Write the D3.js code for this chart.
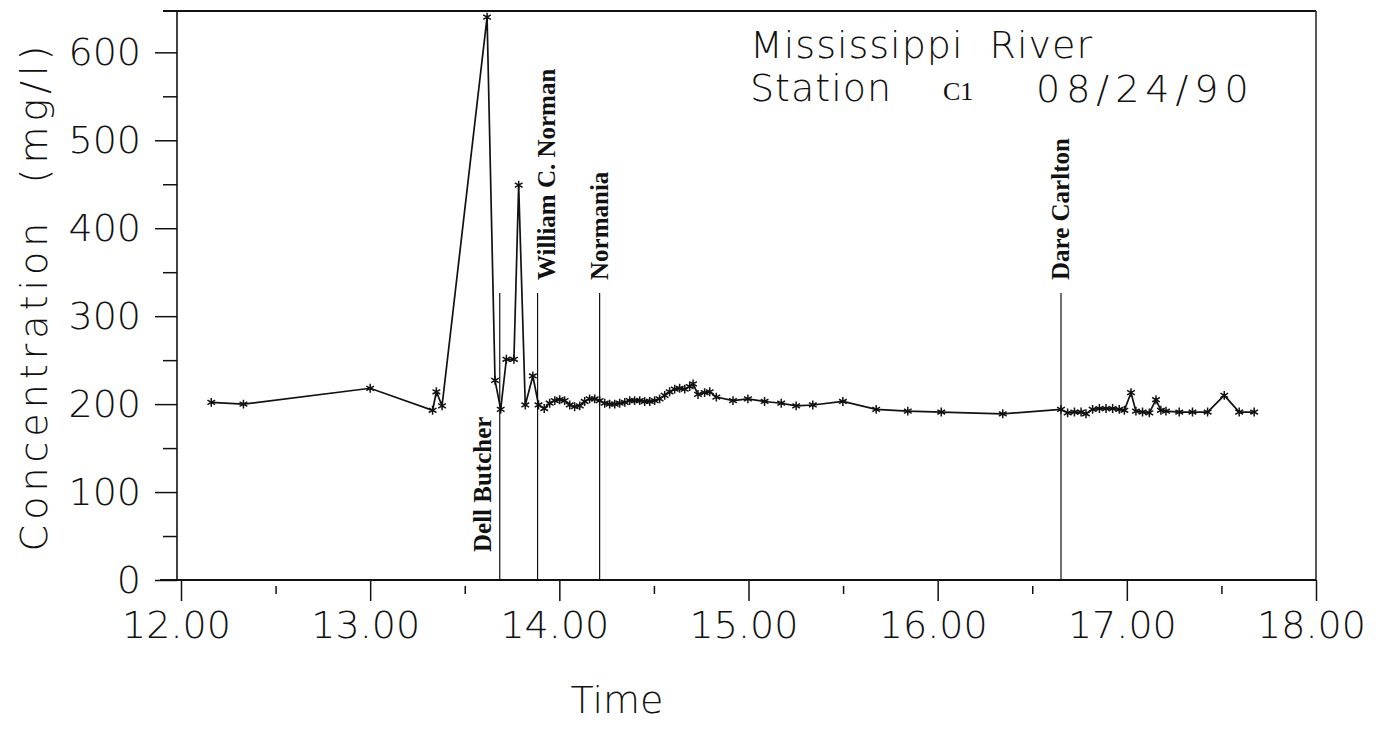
<!DOCTYPE html>
<html>
<head>
<meta charset="utf-8">
<script src="https://cdn.jsdelivr.net/npm/d3@7"></script>
<style>
  body { margin: 0; background: #fff; }
  .thin { font-family: "DejaVu Sans", sans-serif; font-weight: 200; fill: #111; }
  .stn { font-family: "Liberation Serif", "Times New Roman", serif; font-weight: bold; font-size: 25px; fill: #111; }
</style>
</head>
<body>
<script>
// sample times (decimal hours) and concentrations
var times = [12.16, 12.33, 13.00, 13.33, 13.35, 13.38, 13.618, 13.66, 13.69, 13.72, 13.76, 13.785,
  13.82, 13.86, 13.89, 13.92, 13.949, 13.976, 14.002, 14.028, 14.055, 14.081, 14.108, 14.134,
  14.16, 14.187, 14.213, 14.24, 14.266, 14.293, 14.319, 14.346, 14.372, 14.398, 14.425, 14.451,
  14.478, 14.504, 14.53, 14.557, 14.583, 14.61, 14.636, 14.663, 14.689, 14.707, 14.733, 14.768,
  14.795, 14.83, 14.918, 14.997, 15.085, 15.173, 15.252, 15.34, 15.499, 15.675, 15.842, 16.019,
  16.344, 16.652, 16.687, 16.723, 16.758, 16.784, 16.819, 16.855, 16.89, 16.925, 16.96, 16.987,
  17.022, 17.048, 17.083, 17.119, 17.154, 17.18, 17.207, 17.277, 17.347, 17.427, 17.515, 17.594, 17.673]

var concentration = [202, 200, 218, 193, 214, 198, 640, 227, 194, 251, 251, 449,
  199, 232, 199, 195, 201, 204, 205, 204, 199, 197, 198, 203,
  206, 206, 204, 201, 200, 200, 201, 202, 204, 204, 204, 203,
  203, 204, 206, 210, 214, 217, 218, 217, 220, 223, 211, 213,
  214, 208, 204, 206, 203, 201, 198, 199, 203, 194, 192, 191,
  189, 194, 190, 191, 191, 189, 194, 195, 195, 195, 194, 193,
  213, 192, 191, 190, 205, 193, 192, 191, 191, 191, 210, 191, 191]

// vessels passing the station
var vesselNames = ["Dell Butcher", "William C. Norman", "Normania", "Dare Carlton"]
var vesselTimes = [13.685, 13.885, 14.213, 16.652]

var xTicks = [12, 13, 14, 15, 16, 17, 18]
var xMinorTicks = [12.5, 13.5, 14.5, 15.5, 16.5, 17.5]
var yTicks = [0, 100, 200, 300, 400, 500, 600]
var yMinorTicks = [50, 150, 250, 350, 450, 550]

var titleLine1 = "Mississippi River"
var stationName = "C1"
var dateText = "08/24/90"

var W = 1376, H = 729
// NOTE: "top" is taken by window.top, so use m-names
var mLeft = 181, mRight = 1316, mTop = 11, mBottom = 580

var svg = d3.select("body").append("svg")
  .attr("width", W).attr("height", H)

var xScale = d3.scaleLinear().domain([12, 18]).range([mLeft, mRight])
var yScale = d3.scaleLinear().domain([0, 647]).range([mBottom, mTop])

//axes-----------------------------------------------------
var xAxis = svg.append("g").attr("transform", "translate(0," + mBottom + ")")
  .call(d3.axisBottom(xScale).tickValues(xTicks).tickSize(21).tickPadding(10)
    .tickFormat(d3.format(".2f")))
xAxis.select(".domain").remove()
xAxis.selectAll("text").attr("class", "thin").style("font-size", "38px").attr("dx", -5)

var xMinor = svg.append("g").attr("transform", "translate(0," + (mBottom + 6) + ")")
  .call(d3.axisBottom(xScale).tickValues(xMinorTicks).tickSize(8).tickFormat(""))
xMinor.select(".domain").remove()

var yAxis = svg.append("g").attr("transform", "translate(" + (mLeft - 4) + ",0)")
  .call(d3.axisLeft(yScale).tickValues(yTicks).tickSize(22).tickPadding(14))
yAxis.select(".domain").remove()
yAxis.selectAll("text").attr("class", "thin").style("font-size", "38px")

var yMinor = svg.append("g").attr("transform", "translate(" + (mLeft - 4) + ",0)")
  .call(d3.axisLeft(yScale).tickValues(yMinorTicks).tickSize(14).tickFormat(""))
yMinor.select(".domain").remove()

svg.selectAll(".tick line").attr("stroke", "#111").attr("stroke-width", 1.5)

// frame
var frame = svg.append("g").attr("stroke", "#111").attr("fill", "none")
frame.append("line").attr("x1", 160).attr("x2", mRight).attr("y1", mBottom).attr("y2", mBottom).attr("stroke-width", 2.2)
frame.append("line").attr("x1", 163).attr("x2", mRight).attr("y1", mTop).attr("y2", mTop).attr("stroke-width", 2.2)
frame.append("line").attr("x1", mLeft - 4).attr("x2", mLeft - 4).attr("y1", mTop).attr("y2", mBottom).attr("stroke-width", 1.6)
frame.append("line").attr("x1", mRight).attr("x2", mRight).attr("y1", mTop).attr("y2", mBottom).attr("stroke-width", 1.4)

//vessel lines and labels----------------------------------
var labelDx = [-9, 17, 8, 8]
var vessels = svg.selectAll(".vessel").data(vesselNames).enter().append("g")
vessels.append("line")
  .attr("x1", function(d, i) { return xScale(vesselTimes[i]) })
  .attr("x2", function(d, i) { return xScale(vesselTimes[i]) })
  .attr("y1", 293).attr("y2", mBottom)
  .attr("stroke", "#111").attr("stroke-width", 1.2)
vessels.append("text")
  .attr("class", "stn")
  .attr("transform", function(d, i) {
    var x = xScale(vesselTimes[i]) + labelDx[i]
    var y = i == 0 ? 552 : 280
    return "translate(" + x + "," + y + ")rotate(-90)"
  })
  .text(function(d) { return d })

//data line----------------------------------------------
var points = times.map(function(t, i) { return [t, concentration[i]] })
var line = d3.line()
  .x(function(d) { return xScale(d[0]) })
  .y(function(d) { return yScale(d[1]) })
svg.append("path").datum(points)
  .attr("d", line).attr("fill", "none")
  .attr("stroke", "#111").attr("stroke-width", 1.7)

svg.selectAll(".pt").data(points).enter().append("path")
  .attr("transform", function(d) { return "translate(" + xScale(d[0]) + "," + yScale(d[1]) + ")" })
  .attr("d", d3.symbol().type(d3.symbolAsterisk).size(55))
  .attr("fill", "none").attr("stroke", "#111").attr("stroke-width", 1.5)

//titles-----------------------------------------------
svg.append("text").attr("class", "thin").style("font-size", "38px")
  .attr("x", 617).attr("y", 713).attr("text-anchor", "middle").text("Time")
svg.append("text").attr("class", "thin").style("font-size", "38px")
  .attr("transform", "translate(47,296)rotate(-90)")
  .attr("text-anchor", "middle")
  .style("white-space", "pre").style("letter-spacing", "5px")
  .text("Concentration  (mg/l)")

svg.append("text").attr("class", "thin").style("font-size", "38px")
  .style("white-space", "pre").style("letter-spacing", "1px")
  .attr("x", 750).attr("y", 58).text(titleLine1.replace(" ", "  "))
svg.append("text").attr("class", "thin").style("font-size", "38px")
  .style("letter-spacing", "1px")
  .attr("x", 750).attr("y", 101).text("Station")
svg.append("text").attr("class", "stn").style("font-size", "26px").style("font-weight", "normal")
  .attr("x", 943).attr("y", 100).text(stationName)
svg.append("text").attr("class", "thin").style("font-size", "38px")
  .style("letter-spacing", "6px")
  .attr("x", 1036).attr("y", 102).text(dateText)
</script>
</body>
</html>
